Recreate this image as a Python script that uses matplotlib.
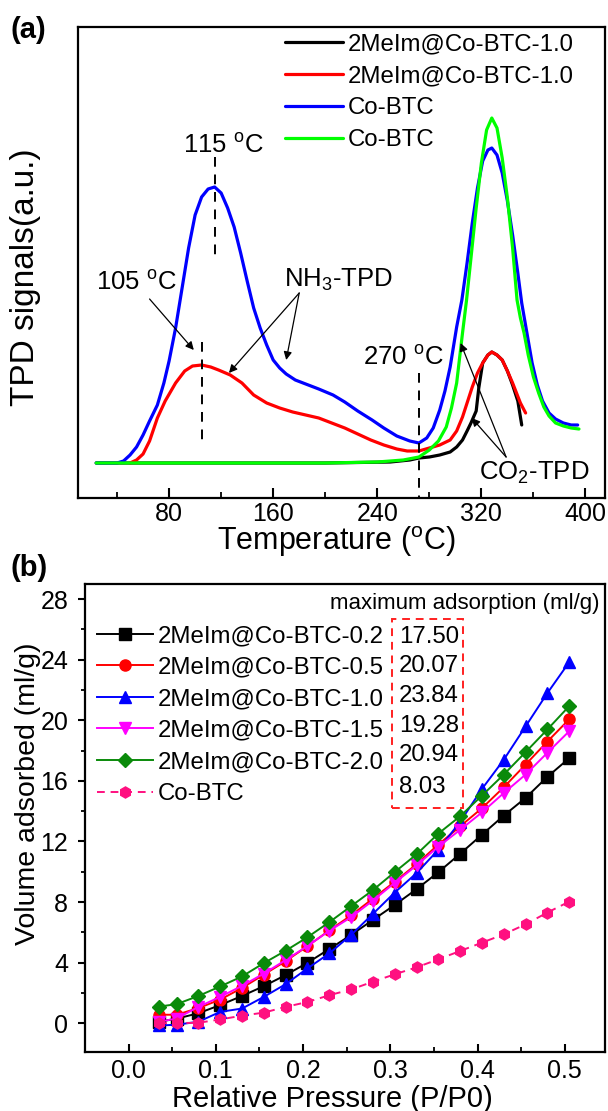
import matplotlib
matplotlib.use('Agg')
import matplotlib.pyplot as plt
from matplotlib.patches import Rectangle
from matplotlib.ticker import MultipleLocator

plt.rcParams['font.family'] = ['Liberation Sans', 'DejaVu Sans']
plt.rcParams['axes.linewidth'] = 1.6

# ---------------- Panel (a) data: TPD curves ----------------
black_T = [24, 100, 200, 250, 265, 272, 280, 288, 296, 301, 305.5, 309, 312, 316, 318, 321, 325, 328, 332, 336, 340, 344, 348, 351]
black_y = [0, 0, 0, 1, 3, 5, 6, 8, 11, 16, 23, 32, 40, 52, 75, 100, 108, 111, 108, 103, 92, 78, 62, 38]

red_T = [50, 55, 60, 65, 71, 77, 85, 92, 98, 105, 112, 118, 127, 136, 145, 155, 165, 175, 185, 195, 205,
         215, 225, 235, 245, 255, 263, 272, 280, 288, 296, 301, 305.5, 309, 313, 317, 321, 325, 328, 332, 336,
         340, 344, 347, 350, 354]
red_y = [0, 3, 9, 22, 45, 62, 80, 92, 97, 98, 96, 93, 88, 80, 68, 60, 55, 51, 48, 45, 40,
         35, 29, 23, 18, 14, 12, 12, 15, 18, 23, 32, 46, 60, 76, 90, 100, 108, 111, 108, 103,
         92, 80, 70, 60, 50]

blue_T = [24, 40, 45, 50, 55, 60, 65, 71, 76, 80, 85, 90, 95, 100, 105, 110, 115, 120, 125, 130, 135, 140,
          145, 150, 155, 160, 165, 170, 177, 185, 195, 206, 215, 225, 236, 245, 255, 265, 272, 278, 283, 288,
          292, 296, 301, 305, 309, 313, 317, 321, 325, 328, 332, 336, 340, 344, 348, 351, 355, 359, 363, 367,
          372, 377, 383, 389, 394]
blue_y = [0, 0, 2, 8, 16, 28, 42, 58, 80, 102, 135, 175, 215, 248, 266, 274, 276, 270, 255, 236, 210, 182,
          155, 135, 118, 103, 95, 89, 83, 79, 74, 68, 61, 52, 43, 35, 27, 22, 20, 25, 35, 53,
          72, 96, 136, 163, 200, 240, 275, 302, 313, 315, 308, 290, 262, 228, 190, 160, 130, 100, 78, 62,
          50, 44, 40, 38, 38]

green_T = [24, 100, 200, 240, 260, 272, 280, 287, 293, 297, 301, 305.5, 308.6, 312, 316, 320, 324, 328, 332,
           336, 340, 344, 347.4, 350, 352.8, 356, 360, 364, 368, 372, 377, 383, 389, 395]
green_y = [0, 0, 0, 1, 3, 6, 13, 22, 36, 55, 80, 130, 163, 205, 255, 300, 333, 345, 335,
           305, 265, 215, 163, 145, 130, 108, 86, 70, 56, 47, 40, 37, 35, 34]

tpd_labels = ['2MeIm@Co-BTC-1.0', '2MeIm@Co-BTC-1.0', 'Co-BTC', 'Co-BTC']
tpd_colors = ['black', '#ff0000', '#0000ff', '#00ff00']

# ---------------- Panel (b) data: adsorption isotherms ----------------
pressure = [0.035, 0.055, 0.08, 0.105, 0.13, 0.155, 0.18, 0.205, 0.23, 0.255,
            0.28, 0.305, 0.33, 0.355, 0.38, 0.405, 0.43, 0.455, 0.48, 0.505]
ads_02 = [0.1, 0.3, 0.66, 1.2, 1.8, 2.45, 3.18, 3.99, 4.9, 5.83,
          6.82, 7.81, 8.85, 9.97, 11.19, 12.45, 13.71, 14.88, 16.27, 17.50]
ads_05 = [0.56, 0.56, 1.0, 1.56, 2.33, 3.21, 4.1, 5.09, 6.13, 7.12,
          8.23, 9.34, 10.5, 11.8, 13.0, 14.2, 15.58, 17.08, 18.6, 20.07]
ads_10 = [-0.15, -0.1, 0.1, 0.75, 0.97, 1.74, 2.58, 3.62, 4.61, 5.83,
          7.22, 8.63, 9.91, 11.46, 13.3, 15.47, 17.4, 19.6, 21.8, 23.84]
ads_15 = [0.1, 0.31, 1.08, 1.74, 2.47, 3.28, 4.17, 5.1, 6.1, 7.0,
          8.1, 9.27, 10.42, 11.66, 12.77, 13.92, 15.2, 16.42, 17.86, 19.28]
ads_20 = [1.1, 1.26, 1.8, 2.43, 3.09, 3.97, 4.79, 5.68, 6.67, 7.73,
          8.79, 9.98, 11.15, 12.52, 13.67, 15.03, 16.42, 17.9, 19.4, 20.94]
ads_co = [0.0, 0.01, 0.03, 0.25, 0.5, 0.7, 1.08, 1.4, 1.85, 2.23,
          2.74, 3.23, 3.69, 4.22, 4.77, 5.32, 5.87, 6.53, 7.31, 8.03]
iso_labels = ['2MeIm@Co-BTC-0.2', '2MeIm@Co-BTC-0.5', '2MeIm@Co-BTC-1.0',
              '2MeIm@Co-BTC-1.5', '2MeIm@Co-BTC-2.0', 'Co-BTC']
max_ads = [17.50, 20.07, 23.84, 19.28, 20.94, 8.03]
iso_colors = ['black', '#ff0000', '#0000ff', '#ff00ff', '#0a8a0a', '#ff1080']
iso_markers = ['s', 'o', '^', 'v', 'D', 'h']
iso_styles = ['-', '-', '-', '-', '-', '--']

W, H = 608, 1111
fig = plt.figure(figsize=(W / 100, H / 100), dpi=100)


def frac(l, t, r, b):
    return [l / W, 1 - b / H, (r - l) / W, (b - t) / H]


def fx(px):
    return px / W


def fy(py):
    return 1 - py / H


# ================= Panel (a) =================
A_L, A_T, A_R, A_B = 78, 27, 605, 498
axA = fig.add_axes(frac(A_L, A_T, A_R, A_B))
for T, y, c, lab in zip([black_T, red_T, blue_T, green_T], [black_y, red_y, blue_y, green_y],
                        tpd_colors, tpd_labels):
    axA.plot(T, y, color=c, lw=2.3, label=lab, solid_capstyle='round', solid_joinstyle='round')

axA.set_xlim(10, 415)
axA.set_ylim(-35, 436)
axA.set_xticks([80, 160, 240, 320, 400])
axA.xaxis.set_minor_locator(MultipleLocator(40))
axA.tick_params(axis='x', which='major', direction='in', length=7, width=1.5, labelsize=18, pad=3)
axA.tick_params(axis='x', which='minor', direction='in', length=4, width=1.3)
axA.tick_params(axis='y', left=False, labelleft=False)
axA.set_xlabel('Temperature ($^{\\mathregular{o}}$C)', fontsize=22)
axA.xaxis.set_label_coords((336 - A_L) / (A_R - A_L), (A_B - 524) / (A_B - A_T))
axA.set_ylabel('TPD signals(a.u.)', fontsize=24)
axA.yaxis.label.set_va('center')
axA.yaxis.set_label_coords((26 - A_L) / (A_R - A_L), (A_B - 277) / (A_B - A_T))

legA = axA.legend(loc='upper left', bbox_to_anchor=(fx(285), fy(33)), bbox_transform=fig.transFigure,
                  frameon=False, fontsize=17.3, handlelength=2.4, handletextpad=0.2, labelspacing=0.42,
                  borderpad=0, borderaxespad=0)

dash_kw = dict(color='black', lw=1.4, dashes=(5, 4))
peak_T = [115, 105, 272]
axA.plot([peak_T[0], peak_T[0]], [306, 208], **dash_kw)
axA.plot([peak_T[1], peak_T[1]], [121, 23], **dash_kw)
axA.plot([peak_T[2], peak_T[2]], [90, -35], **dash_kw)

ann_fs = 18.5
axA.text(122, 318, '115 $^{\\mathregular{o}}$C', fontsize=ann_fs, ha='center', va='center')
axA.text(55, 181, '105 $^{\\mathregular{o}}$C', fontsize=ann_fs, ha='center', va='center')
axA.text(260, 106, '270 $^{\\mathregular{o}}$C', fontsize=ann_fs, ha='center', va='center')
axA.text(210, 183, 'NH$_{\\mathregular{3}}$-TPD', fontsize=ann_fs, ha='center', va='center')
axA.text(361, -10, 'CO$_{\\mathregular{2}}$-TPD', fontsize=ann_fs, ha='center', va='center')

arr = dict(arrowstyle='-|>', color='black', lw=0.9, mutation_scale=12, shrinkA=0, shrinkB=0)
axA.annotate('', xy=(99, 113), xytext=(65, 164), arrowprops=arr)
axA.annotate('', xy=(126, 90), xytext=(180, 170), arrowprops=arr)
axA.annotate('', xy=(170, 103), xytext=(180, 170), arrowprops=arr)
axA.annotate('', xy=(304, 120), xytext=(339, 6), arrowprops=arr)
axA.annotate('', xy=(312.6, 45), xytext=(339, 6), arrowprops=arr)

fig.text(fx(11), fy(30), '(a)', fontsize=21, fontweight='bold', ha='left', va='center')

# ================= Panel (b) =================
B_L, B_T, B_R, B_B = 85, 584, 605, 1052
axB = fig.add_axes(frac(B_L, B_T, B_R, B_B))
series = [ads_02, ads_05, ads_10, ads_15, ads_20, ads_co]
for ys, c, m, ls, lab in zip(series, iso_colors, iso_markers, iso_styles, iso_labels):
    ms = 7 if m == 'D' else 8
    axB.plot(pressure, ys, color=c, marker=m, ms=ms, ls=ls, lw=1.4, label=lab,
             markeredgecolor=c, markerfacecolor=c, dashes=(4, 3) if ls == '--' else (None, None))

axB.set_xlim(-0.05, 0.546)
axB.set_ylim(-1.9, 29.0)
axB.set_xticks([0.0, 0.1, 0.2, 0.3, 0.4, 0.5])
axB.xaxis.set_minor_locator(MultipleLocator(0.05))
axB.set_yticks([0, 4, 8, 12, 16, 20, 24, 28])
axB.yaxis.set_minor_locator(MultipleLocator(2))
axB.xaxis.set_major_formatter(plt.FormatStrFormatter('%.1f'))
axB.tick_params(axis='x', which='major', direction='in', length=6, width=1.5, labelsize=18, pad=5)
axB.tick_params(axis='x', which='minor', direction='in', length=3.5, width=1.3)
axB.tick_params(axis='y', which='major', direction='out', length=5, width=1.5, labelsize=18, pad=7)
axB.tick_params(axis='y', which='minor', direction='out', length=3, width=1.3)
axB.set_xlabel('Relative Pressure (P/P0)', fontsize=21)
axB.xaxis.set_label_coords((332 - B_L) / (B_R - B_L), (B_B - 1085) / (B_B - B_T))
axB.set_ylabel('Volume adsorbed (ml/g)', fontsize=20.5)
axB.yaxis.label.set_va('center')
axB.yaxis.set_label_coords((28 - B_L) / (B_R - B_L), (B_B - 794) / (B_B - B_T))

legB = axB.legend(loc='upper left', bbox_to_anchor=(fx(97), fy(625)), bbox_transform=fig.transFigure,
                  frameon=False, fontsize=17.3, handlelength=2.35, handletextpad=0.18, labelspacing=0.4,
                  borderpad=0, borderaxespad=0)

row_y = [637, 666, 696, 726, 755, 787]
for v, ry in zip(max_ads, row_y):
    fig.text(fx(399), fy(ry), '%.2f' % v, fontsize=17.3, ha='left', va='center')
fig.text(fx(599), fy(603), 'maximum adsorption (ml/g)', fontsize=16, ha='right', va='center')
fig.patches.append(Rectangle((fx(392), fy(808)), fx(463) - fx(392), fy(619) - fy(808),
                             transform=fig.transFigure, fill=False, edgecolor='#ff2020',
                             lw=1.4, ls=(0, (4, 3))))

fig.text(fx(11), fy(568), '(b)', fontsize=21, fontweight='bold', ha='left', va='center')

fig.savefig('out.png', dpi=100)
